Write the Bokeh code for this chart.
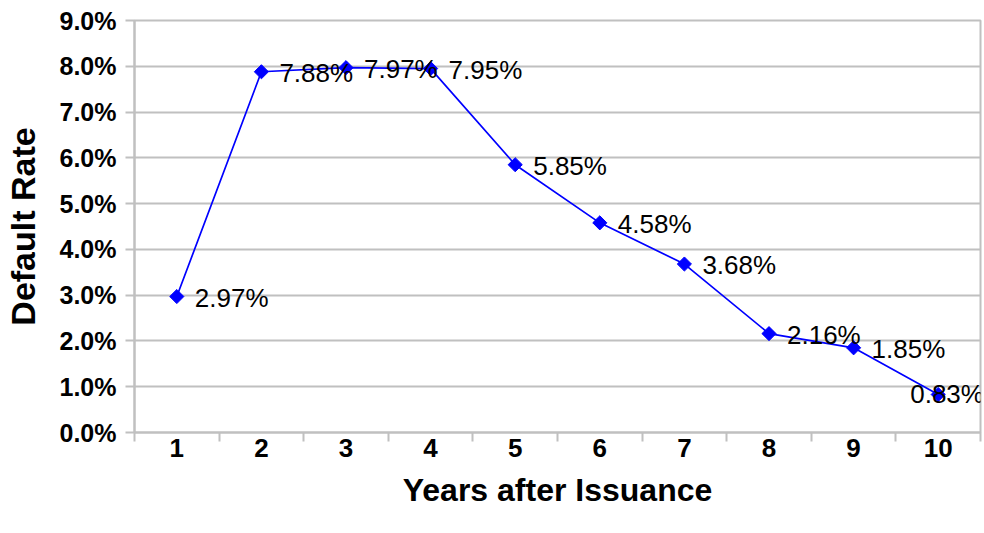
from bokeh.plotting import figure
from bokeh.models import ColumnDataSource, FixedTicker, PrintfTickFormatter
from bokeh.core.properties import value
from bokeh.embed import file_html
from bokeh.resources import INLINE
import numpy as np

years = [1, 2, 3, 4, 5, 6, 7, 8, 9, 10]
default_rate = [2.97, 7.88, 7.97, 7.95, 5.85, 4.58, 3.68, 2.16, 1.85, 0.83]
y_ticks = [0, 1, 2, 3, 4, 5, 6, 7, 8, 9]
labels = ["%.2f%%" % v for v in default_rate]

src = ColumnDataSource(dict(x=years, y=default_rate))
# labels: all but the last sit right of the marker; the last one is pulled left to fit
src_lab = ColumnDataSource(dict(x=years[:-1], y=default_rate[:-1], lab=labels[:-1]))
src_last = ColumnDataSource(dict(x=years[-1:], y=default_rate[-1:], lab=labels[-1:]))

FONT = "Liberation Sans"
GRAY = "#c0c0c0"

p = figure(width=984, height=533, output_backend="svg", toolbar_location=None,
           x_range=(0.5, 10.5), y_range=(0, 9),
           min_border_left=133, min_border_top=20, min_border_right=4, min_border_bottom=101)
p.outline_line_color = GRAY
p.outline_line_width = 2
p.background_fill_color = "white"
p.border_fill_color = "white"

p.line("x", "y", source=src, line_color="#0000ff", line_width=1.7)
p.scatter("x", "y", source=src, marker="square", angle=np.pi / 4, size=10,
          fill_color="#0000ff", line_color="#0000ff")
p.text("x", "y", text="lab", source=src_lab, x_offset=18, y_offset=1,
       text_font=value(FONT), text_font_size="26px", text_color="black",
       text_baseline="middle", text_align="left")
p.text("x", "y", text="lab", source=src_last, x_offset=-28, y_offset=-1,
       text_font=value(FONT), text_font_size="26px", text_color="black",
       text_baseline="middle", text_align="left")

# x axis
p.xaxis.ticker = FixedTicker(ticks=years, minor_ticks=[i + 0.5 for i in range(0, 11)])
p.xaxis.major_tick_line_color = None
p.xaxis.major_tick_out = 0
p.xaxis.major_tick_in = 0
p.xaxis.minor_tick_line_color = GRAY
p.xaxis.minor_tick_line_width = 2
p.xaxis.minor_tick_out = 9
p.xaxis.minor_tick_in = 0
p.xaxis.axis_line_color = GRAY
p.xaxis.axis_line_width = 2
p.xaxis.major_label_text_font = FONT
p.xaxis.major_label_text_font_style = "bold"
p.xaxis.major_label_text_font_size = "26px"
p.xaxis.major_label_text_color = "black"
p.xaxis.major_label_standoff = -3
p.xaxis.axis_label = "Years after Issuance"
p.xaxis.axis_label_text_font = FONT
p.xaxis.axis_label_text_font_style = "bold"
p.xaxis.axis_label_text_font_size = "32px"
p.xaxis.axis_label_text_color = "black"
p.xaxis.axis_label_standoff = 12

# y axis
p.yaxis.ticker = FixedTicker(ticks=y_ticks, minor_ticks=[])
p.yaxis.formatter = PrintfTickFormatter(format="%.1f%%")
p.yaxis.major_tick_line_color = GRAY
p.yaxis.major_tick_line_width = 2
p.yaxis.major_tick_out = 9
p.yaxis.major_tick_in = 0
p.yaxis.axis_line_color = GRAY
p.yaxis.axis_line_width = 2
p.yaxis.major_label_text_font = FONT
p.yaxis.major_label_text_font_style = "bold"
p.yaxis.major_label_text_font_size = "25px"
p.yaxis.major_label_text_color = "black"
p.yaxis.major_label_standoff = 9
p.yaxis.axis_label = "Default Rate"
p.yaxis.axis_label_text_font = FONT
p.yaxis.axis_label_text_font_style = "bold"
p.yaxis.axis_label_text_font_size = "34px"
p.yaxis.axis_label_text_color = "black"
p.yaxis.axis_label_standoff = 15

p.xgrid.grid_line_color = None
p.ygrid.ticker = FixedTicker(ticks=y_ticks)
p.ygrid.grid_line_color = GRAY
p.ygrid.grid_line_width = 2

open("out.html", "w").write(file_html(p, INLINE))
